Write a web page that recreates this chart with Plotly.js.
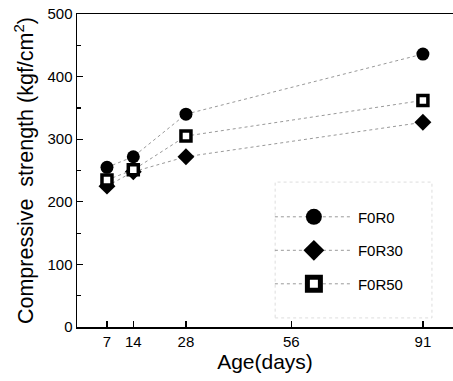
<!DOCTYPE html>
<html>
<head>
<meta charset="utf-8">
<script src="https://cdn.plot.ly/plotly-3.0.1.min.js"></script>
<style>html,body{margin:0;padding:0;background:#fff;}#chart{width:453px;height:381px;}</style>
</head>
<body>
<div id="chart"></div>
<script>
// Data
const ages = [7, 14, 28, 91];
const F0R0 = [255, 272, 340, 436];
const F0R30 = [225, 248, 272, 327];
const F0R50 = [235, 251, 305, 362];
const seriesNames = ["F0R0", "F0R30", "F0R50"];
const xTickVals = [7, 14, 28, 56, 91];
const xTickText = ["7", "14", "28", "56", "91"];

const lineStyle = {color: "#999999", width: 1, dash: "dot"};

const plotMarkers = [
  {symbol: "circle", size: 13, color: "#000"},
  {symbol: "diamond", size: 13, color: "#000"},
  {symbol: "square", size: 10, color: "#fff", line: {color: "#000", width: 3.5}}
];
const legendMarkers = [
  {symbol: "circle", size: 16, color: "#000"},
  {symbol: "diamond", size: 16, color: "#000"},
  {symbol: "square", size: 13, color: "#fff", line: {color: "#000", width: 5}}
];
const seriesY = [F0R0, F0R30, F0R50];

const traces = [];
seriesY.forEach((ys, i) => {
  traces.push({x: ages, y: ys, name: seriesNames[i], mode: "lines+markers", line: lineStyle,
               marker: plotMarkers[i], showlegend: false});
});
// legend entries (no drawable data) so that the legend symbols can be larger
seriesY.forEach((ys, i) => {
  traces.push({x: [null], y: [null], name: seriesNames[i], mode: "lines+markers", line: lineStyle,
               marker: legendMarkers[i], legendgroup: "g" + i, showlegend: true});
});

const font = {family: "Liberation Sans, Arial, sans-serif", color: "#000"};

const layout = {
  width: 453, height: 381,
  margin: {l: 77, r: 0, t: 14, b: 54},
  paper_bgcolor: "#fff", plot_bgcolor: "#fff",
  font: font,
  showlegend: true,
  legend: {x: 0.513, y: 0.404, xanchor: "left", yanchor: "top",
           font: {size: 15, family: font.family, color: "#000"},
           bgcolor: "rgba(0,0,0,0)", tracegroupgap: 11, itemwidth: 78},
  xaxis: {
    range: [-0.97, 99], tickvals: xTickVals, ticktext: xTickText,
    ticks: "inside", ticklen: 6, tickwidth: 1.2, tickcolor: "#000",
    showline: true, linecolor: "#000", linewidth: 1.5, mirror: true,
    showgrid: false, zeroline: false,
    tickfont: {size: 15, family: font.family, color: "#000"},
    title: {text: "Age(days)", font: {size: 21, family: font.family, color: "#000"}, standoff: 6}
  },
  yaxis: {
    range: [0, 500], dtick: 100, tick0: 0,
    ticks: "inside", ticklen: 6, tickwidth: 1.2, tickcolor: "#000",
    minor: {dtick: 50, ticks: "inside", ticklen: 4, tickcolor: "#000"},
    showline: true, linecolor: "#000", linewidth: 1.5,
    showgrid: false, zeroline: false,
    tickfont: {size: 15, family: font.family, color: "#000"},
    title: {text: "Compressive  strength (kgf/cm<sup>2</sup>)", font: {size: 21.5, family: font.family, color: "#000"}, standoff: 8}
  },
  shapes: [
    {type: "rect", xref: "paper", yref: "paper", x0: 0.527, x1: 0.944, y0: 0.029, y1: 0.463,
     line: {color: "#dddddd", width: 1, dash: "dot"}}
  ]
};

Plotly.newPlot("chart", traces, layout, {staticPlot: true, displayModeBar: false});
</script>
</body>
</html>
